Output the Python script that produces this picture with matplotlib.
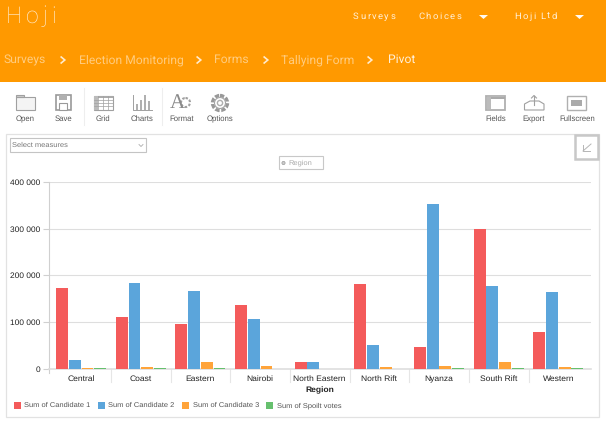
import numpy as np
import matplotlib
matplotlib.use("Agg")
import matplotlib.pyplot as plt
from matplotlib.patches import Rectangle, Circle, Polygon
from matplotlib.ticker import FuncFormatter

# chart values
regions = ["Central", "Coast", "Eastern", "Nairobi", "North Eastern",
           "North Rift", "Nyanza", "South Rift", "Western"]
candidate_1 = [174000, 112000, 97000, 136000, 16000, 182000, 46000, 300000, 79000]
candidate_2 = [20000, 185000, 166000, 108000, 16000, 51000, 353000, 177000, 164000]
candidate_3 = [3000, 4000, 14000, 7000, 1000, 5000, 7000, 16000, 4500]
spoilt_votes = [1500, 1500, 1500, 500, 300, 1000, 2000, 2000, 2000]

series_names = ["Sum of Candidate 1", "Sum of Candidate 2", "Sum of Candidate 3", "Sum of Spoilt votes"]
series_colors = ["#f45b5b", "#5ba5db", "#ffa43a", "#66c06e"]

breadcrumb = ["Surveys", "Election Monitoring", "Forms", "Tallying Form", "Pivot"]
breadcrumb_x = [4, 79, 214, 281, 388]
chevron_x = [63, 199, 266, 370]
left_tools = [("Open", 25), ("Save", 63), ("Grid", 103), ("Charts", 142), ("Format", 182), ("Options", 220)]
right_tools = [("Fields", 496), ("Export", 534), ("Fullscreen", 577)]

W, H = 606, 423
ORANGE = "#ff9900"
GREY = "#a0a0a0"
plt.rcParams["font.family"] = ["Liberation Sans", "DejaVu Sans"]
plt.rcParams["text.hinting"] = "no_hinting"

fig = plt.figure(figsize=(W / 100, H / 100), dpi=100)
bg = fig.add_axes([0, 0, 1, 1])
bg.set_xlim(0, W)
bg.set_ylim(H, 0)
bg.axis("off")


def spaced(x, y, s, size, gap, color="white", alpha=1.0, weight="light"):
    # letter spacing by hand, matplotlib has no option for it
    r = fig.canvas.get_renderer()
    for ch in s:
        t = bg.text(x, y, ch, fontsize=size, color=color, alpha=alpha, family="Roboto",
                    weight=weight, va="center", ha="left")
        if ch == " ":
            x += size * 0.35 + gap
        else:
            x += t.get_window_extent(r).width + gap


def chevron(x, y, size=3.0):
    bg.plot([x - size * 0.6, x + size * 0.6, x - size * 0.6], [y - size, y, y + size],
            color="white", lw=1.2, alpha=0.8, solid_joinstyle="miter")


def box(x0, y0, x1, y1, fc="none", ec=GREY, lw=0.8, **kw):
    bg.add_patch(Rectangle((x0, y0), x1 - x0, y1 - y0, fc=fc, ec=ec, lw=lw, **kw))


# header
bg.add_patch(Rectangle((0, 0), W, 82, fc=ORANGE, ec="none"))
spaced(6, 16.5, "Hoji", 16.5, 4.0, alpha=0.85)
spaced(353, 16.5, "Surveys", 6.8, 1.5, alpha=0.85, weight="normal")
spaced(418, 16.5, "Choices", 6.8, 1.5, alpha=0.85, weight="normal")
spaced(514, 16.5, "Hoji Ltd", 6.8, 1.5, alpha=0.85, weight="normal")
for x in [483.5, 579.5]:
    bg.add_patch(Polygon([[x - 4.5, 15], [x + 4.5, 15], [x, 19]], fc="white", ec="none", alpha=0.95))
for i, (name, x) in enumerate(zip(breadcrumb, breadcrumb_x)):
    last = i == len(breadcrumb) - 1
    bg.text(x, 60, name, color="white", alpha=0.85 if last else 0.5, fontsize=8.7,
            family="Roboto", weight="normal", va="center")
for x in chevron_x:
    chevron(x, 60)

# toolbar labels and separators
for name, x in left_tools + right_tools:
    bg.text(x, 119, name, fontsize=5.6, color="#555555", ha="center", va="center")
for x in [83.5, 161.5]:
    bg.plot([x, x], [88, 125], color="#eeeeee", lw=0.8)

# toolbar icons, rough versions
box(15.5, 97, 34.5, 110, fc="#f4f4f4")                 # open
box(15.5, 95, 24, 97, fc="#cccccc")
box(55.5, 95, 70.5, 110, fc="white", ec="#999999", lw=1.2)  # save
box(59, 95.5, 67, 100, fc="#b0b0b0", ec="none")
box(59, 103, 67, 110, fc="white", ec="#999999")
box(93.5, 96, 113, 110, fc="white")                    # grid
box(93.5, 96, 113, 98.5, fc="#aaaaaa", ec="none")
box(93.5, 96, 97.5, 110, fc="#bbbbbb", ec="none")
for x in [98, 103, 108]:
    bg.plot([x, x], [96, 110], color=GREY, lw=0.5)
for y in [100, 103, 106.5]:
    bg.plot([93.5, 113], [y, y], color=GREY, lw=0.5)
bg.plot([132.5, 132.5, 152], [95, 110, 110], color=GREY, lw=0.7)  # charts
for x, top in zip([136, 140, 144, 148], [104, 100, 95, 101]):
    box(x, top, x + 1.8, 110, fc="#b0b0b0", ec="none")
bg.add_patch(Circle((185.5, 102.5), 4.5, fc="white", ec=GREY, lw=1.5, ls=(0, (1.2, 0.8))))  # format
bg.text(177, 103, "A", fontsize=15, color="#8a8a8a", family="Liberation Serif",
        ha="center", va="center")
bg.add_patch(Circle((220, 103), 7.5, fc="none", ec="#999999", lw=2.4, ls=(0, (1.3, 0.5))))  # options
bg.add_patch(Circle((220, 103), 5.5, fc="white", ec="#a5a5a5", lw=0.8))
bg.add_patch(Circle((220, 103), 2.6, fc="white", ec="#b0b0b0", lw=1.0))
box(486, 96, 505, 110, fc="white", ec="#b0b0b0", lw=1.3)  # fields
box(487, 97, 491, 109, fc="#bbbbbb", ec="none")
box(491, 97, 505, 99, fc="#aaaaaa", ec="none")
bg.add_patch(Polygon([[524.5, 110], [524.5, 104], [530, 101], [539, 101], [544, 104], [544, 110]],  # export
                     fc="white", ec=GREY, lw=0.8))
bg.plot([534, 534], [96, 105], color=GREY, lw=0.8)
bg.plot([531.5, 534, 536.5], [98, 95.5, 98], color=GREY, lw=0.8)
box(566.5, 96, 586, 110, fc="white", ec="#b0b0b0", lw=1.0)  # fullscreen
box(571, 100, 582, 106, fc="#aaaaaa", ec="none")

# pivot panel
box(5.5, 134.5, 598.5, 417.5, fc="white", ec="#e2e2e2", lw=0.9)
box(574.5, 135.5, 598, 159.5, fc="white", ec="#c8c8c8", lw=1.8)
bg.plot([591, 583], [144, 151], color="#b5b5b5", lw=0.7)
bg.plot([583, 583, 590], [145, 151, 151], color="#b5b5b5", lw=0.7)
box(9.5, 138.5, 146, 152.5, fc="white", ec="#c4c4c4", lw=0.8)
bg.text(12.5, 145.5, "Select measures", fontsize=5.4, color="#777777", va="center")
bg.plot([139, 141, 143], [144.5, 146.5, 144.5], color="#aaaaaa", lw=0.6)
box(278.5, 156.5, 323, 169.5, fc="white", ec="#c8c8c8", lw=0.8)
bg.add_patch(Circle((283.5, 163), 1.6, fc="#cccccc", ec="#999999", lw=0.5))
bg.text(288.5, 163, "Region", fontsize=5.4, color="#aaaaaa", va="center")

# chart axes, lined up in pixels with the reference
ax_left, ax_right, ax_top, ax_bottom = 48.5, 591.0, 182.0, 369.0
cat_left, cat_w = 51.3, 59.65
ax = fig.add_axes([ax_left / W, 1 - ax_bottom / H, (ax_right - ax_left) / W, (ax_bottom - ax_top) / H])
ax.patch.set_alpha(0)
x = np.arange(len(regions))
bar_w = 0.198
step = 0.213
for i, vals in enumerate([candidate_1, candidate_2, candidate_3, spoilt_votes]):
    ax.bar(x + (i - 1.5) * step, vals, width=bar_w, color=series_colors[i], zorder=3, label=series_names[i])
ax.set_xlim(-0.5 - (cat_left - ax_left) / cat_w, -0.5 + (ax_right - cat_left) / cat_w)
ax.set_ylim(0, 400000)
ax.set_yticks([0, 100000, 200000, 300000, 400000])
ax.yaxis.set_major_formatter(FuncFormatter(lambda v, p: f"{int(v):,}".replace(",", " ")))
ax.set_xticks(x)
ax.set_xticklabels(regions)
ax.grid(axis="y", color="#dedede", lw=0.8, zorder=0)
ax.tick_params(axis="y", length=4, color="#d0d0d0", width=0.8, labelsize=6.0, pad=2, labelcolor="#222222")
ax.tick_params(axis="x", length=0, labelsize=6.1, pad=4.5, labelcolor="#222222")
for s in ["top", "right"]:
    ax.spines[s].set_visible(False)
ax.spines["left"].set_color("#d0d0d0")
ax.spines["left"].set_linewidth(0.8)
ax.spines["bottom"].set_color("#dedede")
ax.spines["bottom"].set_linewidth(1.2)

# axis title placed in pixels, labelpad cannot reach it
bg.text(320, 389.8, "Region", fontsize=6.1, fontweight="bold", color="#222222", ha="center", va="center")

# category separators under the axis
for k in range(1, 9):
    sx = cat_left + cat_w * k
    bg.plot([sx, sx], [369, 382.5], color="#e6e6e6", lw=0.8)
bg.plot([48.5, 48.5], [369, 373], color="#d0d0d0", lw=0.8)

# legend drawn by hand so the spacing follows the reference
legend_x = [13.5, 97.5, 181.7, 265.7]
for name, color, lx in zip(series_names, series_colors, legend_x):
    bg.add_patch(Rectangle((lx, 401.7), 7, 7, fc=color, ec="none"))
    bg.text(lx + 11, 405.6, name, fontsize=5.4, color="#555555", va="center")

fig.savefig("out.png", dpi=100)
